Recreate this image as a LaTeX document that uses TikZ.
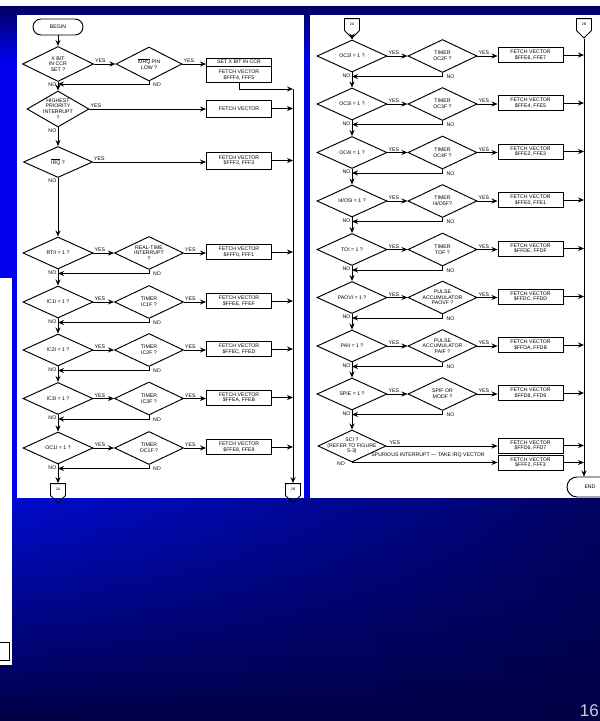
\documentclass[tikz,border=0pt]{standalone}
\usepackage{fontspec}
\setmainfont{Liberation Sans}
\usetikzlibrary{shapes.geometric,shapes.symbols,arrows.meta,fadings}
\definecolor{navyA}{RGB}{0,0,100}
\definecolor{blueB}{RGB}{0,0,236}
\definecolor{blueC}{RGB}{0,12,210}
\definecolor{navyD}{RGB}{0,0,70}
\definecolor{numgray}{RGB}{205,205,215}
\tikzset{
  fc/.style={font=\fontsize{5.2}{5.7}\selectfont, align=center, inner sep=0pt},
  diaA/.style={draw, diamond, line width=0.95pt, minimum width=70pt, minimum height=32pt, inner sep=0pt},
  diaB/.style={draw, diamond, line width=0.95pt, minimum width=69pt, minimum height=33pt, inner sep=0pt},
  boxn/.style={draw, rectangle, line width=0.95pt, minimum width=65pt, minimum height=15pt, inner sep=0pt, fc},
  arr/.style={-{Stealth[length=6pt,width=5pt]}, line width=0.95pt},
  conn/.style={draw, signal, signal to=south, signal from=nowhere, line width=0.9pt, minimum width=15pt, minimum height=14pt, inner sep=0pt, font=\fontsize{3.6}{4}\selectfont},
  term/.style={draw, rectangle, line width=0.95pt, fc}
}
\newcommand{\frow}[9]{%
  \node[diaA] (#1a) at (#3,#2) {};
  \node[fc] (#1at) at (#1a) {#6};
  \node[diaB] (#1b) at (#4,#2) {};
  \node[fc] (#1bt) at (#1b) {#7};
  \node[boxn] (#1c) at (#5,#2-1) {#8};
  \draw[arr] (#1a.east) -- (#1b.west);
  \node[fc, anchor=south west] (#1y1) at ([xshift=1pt,yshift=1pt]#1a.east) {YES};
  \draw[arr] (#1b.east) -- (#1b.east -| #1c.west);
  \node[fc, anchor=south west] (#1y2) at ([xshift=1pt,yshift=1pt]#1b.east) {YES};
  \draw[arr] (#1c.east) -- (#1c.east -| #9);
  \coordinate (#1j) at (#3,#2+20.5);
  \draw[arr] (#1b.south) |- (#1j);
  \node[fc, anchor=north east] (#1n1) at ([xshift=-1.5pt,yshift=-1pt]#1a.south) {NO};
  \node[fc, anchor=north west] (#1n2) at ([xshift=4pt,yshift=-2pt]#1b.south) {NO};
}
\begin{document}
\begin{tikzpicture}[x=1pt,y=-1pt]
\useasboundingbox (0,0) rectangle (600,721);
\clip (0,0) rectangle (600,721);
% background
\fill[white] (0,0) rectangle (600,6);
\shade[top color=navyA, bottom color=blueB] (0,6) rectangle (600,60);
\fill[blueB] (0,60) rectangle (600,498);
\shade[top color=blueC, bottom color=navyD] (0,498) rectangle (600,721);
\fill[navyD, path fading=west, fill opacity=0.8] (0,498) rectangle (600,721);
\fill[white] (0,278) rectangle (12,665);
\draw[line width=0.8pt] (-1,642) rectangle (9,660);
\fill[white] (17,15) rectangle (304,498);
\fill[white] (310,15) rectangle (600,498);
\node[anchor=north east, inner sep=0pt, text=numgray, font=\fontsize{17}{17}\selectfont] (pg) at (599,704) {16};

% ---------------- left panel ----------------
\node[term, rounded corners=8pt, minimum width=50pt, minimum height=16pt] (begin) at (58,27) {BEGIN};
\node[diaA, minimum width=71pt, minimum height=35pt] (d1) at (58,64) {};
\node[fc] (d1t) at (d1) {X BIT\\IN CCR\\SET ?};
\node[diaA, minimum width=66pt, minimum height=34pt] (d2) at (149,64) {};
\node[fc] (d2t) at (d2) {\(\overline{\mbox{XIRQ}}\) PIN\\LOW ?};
\node[boxn, minimum height=24pt] (b1) at (239,70) {};
\draw[line width=0.95pt] ([yshift=-9pt]b1.north west) -- ([yshift=-9pt]b1.north east);
\node[fc] (b1t1) at ([yshift=-4.5pt]b1.north) {SET X BIT IN CCR};
\node[fc] (b1t2) at ([yshift=7.5pt]b1.south) {FETCH VECTOR\\\$FFF4, FFF5};
\draw[arr] (begin.south) -- (d1.north);
\draw[arr] (d1.east) -- (d2.west);
\node[fc, anchor=south west] (d1y) at ([xshift=1pt,yshift=1pt]d1.east) {YES};
\draw[arr] (d2.east) -- (d2.east -| b1.west);
\node[fc, anchor=south west] (d2y) at ([xshift=1pt,yshift=1pt]d2.east) {YES};
\coordinate (j0) at (58,84);
\draw[arr] (d2.south) |- (j0);
\node[fc, anchor=north east] (d1n) at ([xshift=-1.5pt,yshift=-1pt]d1.south) {NO};
\node[fc, anchor=north west] (d2n) at ([xshift=4pt,yshift=-1pt]d2.south) {NO};
\coordinate (busL) at (293,89);
\draw[arr] (b1.south) |- (busL);

\node[diaA, minimum width=62pt, minimum height=36pt] (d3) at (58,109) {};
\node[fc] (d3t) at (d3) {HIGHEST\\PRIORITY\\INTERRUPT\\?};
\draw[arr] (d1.south) -- (d3.north);
\node[boxn, minimum height=17pt] (b2) at (239,108.5) {FETCH VECTOR};
\draw[arr] (d3.east) -- (d3.east -| b2.west);
\node[fc, anchor=south west] (d3y) at ([xshift=1pt,yshift=1pt]d3.east) {YES};
\draw[arr] (b2.east) -- (b2.east -| busL);
\node[fc, anchor=north east] (d3n) at ([xshift=-1.5pt,yshift=-1pt]d3.south) {NO};

\node[diaA, minimum width=69pt, minimum height=31pt] (d4) at (58,162) {};
\node[fc] (d4t) at (d4) {\(\overline{\mbox{IRQ}}\) ?};
\draw[arr] (d3.south) -- (d4.north);
\node[boxn, minimum height=17pt] (b3) at (239,160.5) {FETCH VECTOR\\\$FFF2, FFF3};
\draw[arr] (d4.east) -- (d4.east -| b3.west);
\node[fc, anchor=south west] (d4y) at ([xshift=1pt,yshift=1pt]d4.east) {YES};
\draw[arr] (b3.east) -- (b3.east -| busL);
\node[fc, anchor=north east] (d4n) at ([xshift=-1.5pt,yshift=-1pt]d4.south) {NO};

\frow{L1}{253}{58}{149}{239}{RTII = 1 ?}{REAL-TIME\\INTERRUPT\\?}{FETCH VECTOR\\\$FFF0, FFF1}{busL}
\frow{L2}{302}{58}{149}{239}{IC1I = 1 ?}{TIMER\\IC1F ?}{FETCH VECTOR\\\$FFEE, FFEF}{busL}
\frow{L3}{350}{58}{149}{239}{IC2I = 1 ?}{TIMER\\IC2F ?}{FETCH VECTOR\\\$FFEC, FFED}{busL}
\frow{L4}{398.5}{58}{149}{239}{IC3I = 1 ?}{TIMER\\IC3F ?}{FETCH VECTOR\\\$FFEA, FFEB}{busL}
\frow{L5}{448}{58}{149}{239}{OC1I = 1 ?}{TIMER\\OC1F ?}{FETCH VECTOR\\\$FFE8, FFE9}{busL}
\draw[arr] (d4.south) -- (L1a.north);
\draw[arr] (L1a.south) -- (L2a.north);
\draw[arr] (L2a.south) -- (L3a.north);
\draw[arr] (L3a.south) -- (L4a.north);
\draw[arr] (L4a.south) -- (L5a.north);
\node[conn] (c2A) at (58,489.5) {2A};
\node[conn] (c2B) at (293,489.5) {2B};
\draw[arr] (L5a.south) -- (c2A.north);
\draw[arr] (busL) -- (c2B.north);

% ---------------- right panel ----------------
\node[conn] (c2Ar) at (352,24.5) {2A};
\node[conn] (c2Br) at (584,24.5) {2B};
\frow{R1}{56}{352}{442.5}{530.5}{OC2I = 1 ?}{TIMER\\OC2F ?}{FETCH VECTOR\\\$FFE6, FFE7}{c2Br}
\frow{R2}{104}{352}{442.5}{530.5}{OC3I = 1 ?}{TIMER\\OC3F ?}{FETCH VECTOR\\\$FFE4, FFE5}{c2Br}
\frow{R3}{152.5}{352}{442.5}{530.5}{OC4I = 1 ?}{TIMER\\OC4F ?}{FETCH VECTOR\\\$FFE2, FFE3}{c2Br}
\frow{R4}{201}{352}{442.5}{530.5}{I4/O5I = 1 ?}{TIMER\\I4/O5F?}{FETCH VECTOR\\\$FFE0, FFE1}{c2Br}
\frow{R5}{249.5}{352}{442.5}{530.5}{TOI = 1 ?}{TIMER\\TOF ?}{FETCH VECTOR\\\$FFDE, FFDF}{c2Br}
\frow{R6}{297.5}{352}{442.5}{530.5}{PAOVI = 1 ?}{PULSE\\ACCUMULATOR\\PAOVF ?}{FETCH VECTOR\\\$FFDC, FFDD}{c2Br}
\frow{R7}{346}{352}{442.5}{530.5}{PAII = 1 ?}{PULSE\\ACCUMULATOR\\PAIF ?}{FETCH VECTOR\\\$FFDA, FFDB}{c2Br}
\frow{R8}{394}{352}{442.5}{530.5}{SPIE = 1 ?}{SPIF OR\\MODF ?}{FETCH VECTOR\\\$FFD8, FFD9}{c2Br}
\draw[arr] (c2Ar.south) -- (R1a.north);
\draw[arr] (R1a.south) -- (R2a.north);
\draw[arr] (R2a.south) -- (R3a.north);
\draw[arr] (R3a.south) -- (R4a.north);
\draw[arr] (R4a.south) -- (R5a.north);
\draw[arr] (R5a.south) -- (R6a.north);
\draw[arr] (R6a.south) -- (R7a.north);
\draw[arr] (R7a.south) -- (R8a.north);

\node[diaA, minimum width=68pt, minimum height=32pt] (sci) at (352,446) {};
\node[fc] (scit) at (sci) {SCI ?\\(REFER TO FIGURE\\5-3)};
\draw[arr] (R8a.south) -- (sci.north);
\node[boxn] (sciy) at (530.5,445.5) {FETCH VECTOR\\\$FFD6, FFD7};
\node[boxn] (scin) at (530.5,462.5) {FETCH VECTOR\\\$FFF2, FFF3};
\draw[arr] (sci.east) -- (sci.east -| sciy.west);
\node[fc, anchor=south west] (sciyes) at ([xshift=3pt,yshift=1pt]sci.east) {YES};
\draw[arr] (sci.south) -- (sci.south -| scin.west);
\node[fc, anchor=south] (spur) at (428,458) {SPURIOUS INTERRUPT — TAKE IRQ VECTOR};
\node[fc, anchor=east] (scino) at ([xshift=-7pt,yshift=-1pt]sci.south) {NO};
\draw[arr] (sciy.east) -- (sciy.east -| c2Br);
\draw[arr] (scin.east) -- (scin.east -| c2Br);
\node[term, rounded corners=10pt, minimum width=46pt, minimum height=20pt] (endn) at (590,487) {END};
\draw[arr] (c2Br.south) -- (c2Br.south |- endn.north);
\end{tikzpicture}
\end{document}
